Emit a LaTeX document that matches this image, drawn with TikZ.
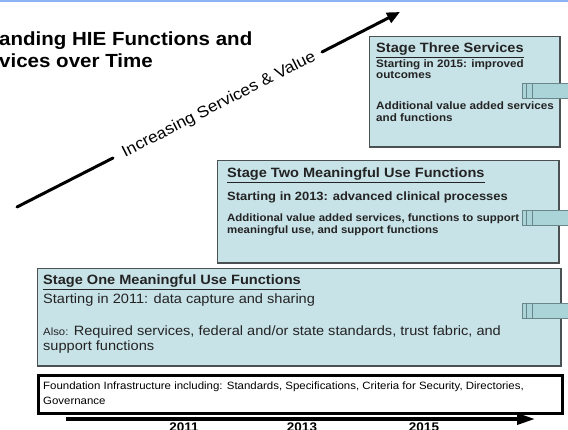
\documentclass[tikz,border=0pt]{standalone}
\usepackage{fontspec}
\setmainfont{Liberation Sans}[FakeStretch=1.08]
\usetikzlibrary{arrows.meta}
\definecolor{boxfill}{RGB}{200,227,232}
\definecolor{boxdraw}{RGB}{75,80,82}
\definecolor{tabfill}{RGB}{170,212,216}
\definecolor{tabdraw}{RGB}{105,135,138}
\definecolor{topline}{RGB}{140,180,245}
\definecolor{txt}{RGB}{35,35,35}
\begin{document}
\begin{tikzpicture}[x=1pt,y=-1pt,
  stagebox/.style={draw=boxdraw, fill=boxfill, line width=1.5pt, anchor=north west, inner sep=0pt},
  tabnode/.style={draw=tabdraw, fill=tabfill, line width=0.8pt, anchor=west, minimum width=54pt, minimum height=15pt, inner sep=0pt},
  txtline/.style={anchor=base west, inner sep=0pt, text=txt},
  ttl/.style={txtline, font=\bfseries\fontsize{13.5}{16}\selectfont},
  bodyb/.style={txtline, font=\bfseries\fontsize{10.6}{12}\selectfont},
  bodyc/.style={txtline, font=\bfseries\fontsize{10.8}{13}\selectfont},
  bodyr/.style={txtline, font=\fontsize{13.5}{16}\selectfont},
  found/.style={txtline, text=black, font=\fontsize{10.6}{12}\selectfont},
  year/.style={anchor=base, inner sep=0pt, font=\bfseries\fontsize{12.5}{14}\selectfont},
  thickarrow/.style={line width=3pt, line cap=round}
]
\useasboundingbox (0,0) rectangle (568,430);
\fill[white] (0,0) rectangle (568,430);
\fill[topline] (0,0) rectangle (568,2.5);

% title
\node[anchor=base west, inner sep=0pt, font=\bfseries\fontsize{19}{22}\selectfont] (t1) at (-1,46) {anding HIE Functions and};
\node[anchor=base west, inner sep=0pt, font=\bfseries\fontsize{19}{22}\selectfont] (t2) at (-1,68) {vices over Time};

% diagonal arrow
\coordinate (d0) at (17,207);
\coordinate (d1) at (113,158);
\coordinate (d2) at (322,52);
\coordinate (d3) at (400,12);
\draw[thickarrow] (d0) -- (d1);
\draw[thickarrow, -{Triangle[length=13pt,width=11pt]}] (d2) -- (d3);
\node[rotate=27, inner sep=0pt, font=\fontsize{16}{18}\selectfont] (dl) at (219,105) {Increasing Services \& Value};

% stage three
\node[stagebox, minimum width=190.5pt, minimum height=110.5pt] (s3) at (368.75,35.75) {};
\node[tabnode] (tab3) at (522,90.5) {};
\draw[tabdraw, line width=0.8pt] ([xshift=4pt]tab3.north west) -- ([xshift=4pt]tab3.south west);
\draw[tabdraw, line width=0.8pt] ([xshift=10pt]tab3.north west) -- ([xshift=10pt]tab3.south west);
\node[ttl] (s3t) at (376,53) {\underline{Stage Three Services}};
\node[bodyc] (s3a) at (376,67.5) {Starting in 2015: improved};
\node[bodyc] (s3b) at (376,79) {outcomes};
\node[bodyc] (s3c) at (376,110) {Additional value added services};
\node[bodyc] (s3d) at (376,121.5) {and functions};

% stage two
\node[stagebox, minimum width=341.5pt, minimum height=102.5pt] (s2) at (216.75,159.75) {};
\node[tabnode] (tab2) at (522,217.5) {};
\draw[tabdraw, line width=0.8pt] ([xshift=4pt]tab2.north west) -- ([xshift=4pt]tab2.south west);
\draw[tabdraw, line width=0.8pt] ([xshift=10pt]tab2.north west) -- ([xshift=10pt]tab2.south west);
\node[ttl] (s2t) at (227,177.5) {\underline{Stage Two Meaningful Use Functions}};
\node[txtline, font=\bfseries\fontsize{12}{14}\selectfont] (s2a) at (227,201) {Starting in 2013: advanced clinical processes};
\node[bodyb] (s2b) at (227,222) {Additional value added services, functions to support};
\node[bodyb] (s2c) at (227,234) {meaningful use, and support functions};

% stage one
\node[stagebox, minimum width=523.5pt, minimum height=97.5pt] (s1) at (36.75,267.75) {};
\node[tabnode] (tab1) at (522,310.5) {};
\draw[tabdraw, line width=0.8pt] ([xshift=4pt]tab1.north west) -- ([xshift=4pt]tab1.south west);
\draw[tabdraw, line width=0.8pt] ([xshift=10pt]tab1.north west) -- ([xshift=10pt]tab1.south west);
\node[ttl] (s1t) at (43,285) {\underline{Stage One Meaningful Use Functions}};
\node[bodyr] (s1a) at (43,304) {Starting in 2011: data capture and sharing};
\node[bodyr] (s1b) at (43,336) {{\fontsize{10.5}{12}\selectfont Also:} Required services, federal and/or state standards, trust fabric, and};
\node[bodyr] (s1c) at (43,351) {support functions};

% foundation
\node[draw=black, fill=white, line width=3pt, anchor=north west, inner sep=0pt, minimum width=524pt, minimum height=38pt] (fd) at (36.5,374.5) {};
\node[found] (fda) at (43,390) {Foundation Infrastructure including: Standards, Specifications, Criteria for Security, Directories,};
\node[found] (fdb) at (43,405) {Governance};

% timeline
\coordinate (ta) at (66,419);
\coordinate (tb) at (535,419);
\draw[line width=3.5pt, -{Triangle[length=18pt,width=11pt]}] (ta) -- (tb);
\node[year] (y1) at (184,431.5) {2011};
\node[year] (y2) at (302,431.5) {2013};
\node[year] (y3) at (424,431.5) {2015};
\end{tikzpicture}
\end{document}
